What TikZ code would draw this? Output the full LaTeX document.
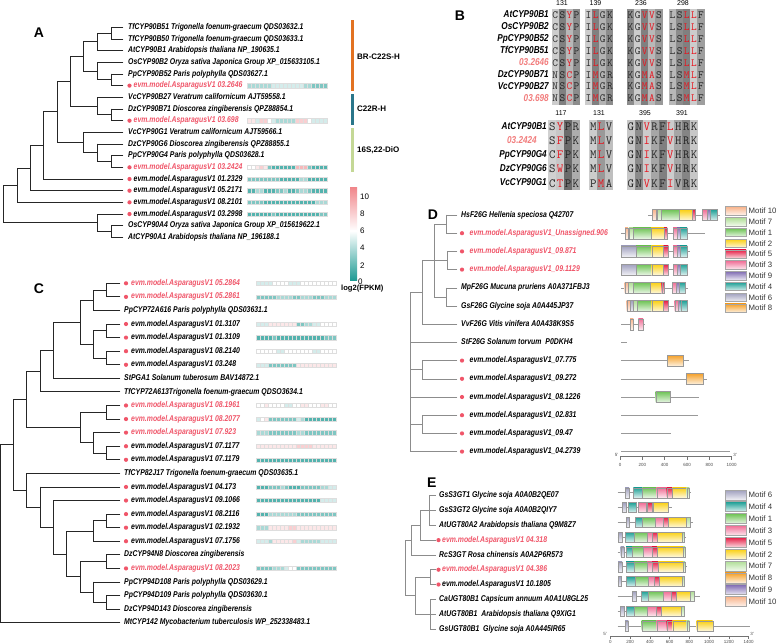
\documentclass[tikz,border=0pt]{standalone}
\usepackage{fontspec}
\setmainfont{Liberation Sans}
\newfontfamily\nrw{Liberation Sans}[FakeStretch=0.82]
\definecolor{evmred}{RGB}{240,85,105}
\definecolor{salm}{RGB}{242,125,125}
\definecolor{resred}{RGB}{232,20,30}
\definecolor{hmteal}{RGB}{30,155,148}
\definecolor{hmpink}{RGB}{238,115,120}
\definecolor{hmgrid}{RGB}{222,222,222}
\definecolor{brorange}{RGB}{226,114,34}
\definecolor{cteal}{RGB}{42,118,138}
\definecolor{dgreen}{RGB}{196,216,150}
\definecolor{mone}{RGB}{110,195,85}
\definecolor{mtwo}{RGB}{250,208,20}
\definecolor{mthree}{RGB}{240,110,150}
\definecolor{mfour}{RGB}{30,160,150}
\definecolor{mfive}{RGB}{230,30,70}
\definecolor{msix}{RGB}{160,160,190}
\definecolor{mseven}{RGB}{175,222,150}
\definecolor{meight}{RGB}{245,160,40}
\definecolor{mnine}{RGB}{130,110,180}
\definecolor{mten}{RGB}{248,180,140}

\newcommand\inode[5]{\draw (#3,#2) -- (#1,#2); \draw (#1,#4) -- (#1,#5);}
\newcommand\leaf[3]{\draw (#1,#3) -- (#2,#3);}
\newcommand\blab[4]{\node[lab] (#1) at (#2,#3) {#4};}
\newcommand\dlab[6]{\fill[evmred] (#2,#4) circle (2.1); \node[lab,text=#6] (#1) at (#3,#4) {#5};}
\newcommand\hmrow[3]{%
  \foreach \hv [count=\hk from 0] in {#3} {%
    \ifnum\hv<5 \pgfmathtruncatemacro\hmc{(5-\hv)*19}\def\hmcol{hmteal!\hmc!white}%
    \else \pgfmathtruncatemacro\hmc{(\hv-5)*17}\def\hmcol{hmpink!\hmc!white}\fi
    \filldraw[fill=\hmcol,draw=hmgrid,line width=0.25pt] ({#1+\hk*4},{#2-2.1}) rectangle ++(4,4.2);
  }}
\newcommand\mtf[5]{\shadedraw[draw=black!40,line width=0.35pt,top color=#1,bottom color=#1!15!white] (#2,{#4-#5/2}) rectangle (#3,{#4+#5/2});}
\newcommand\gline[3]{\draw[black!40,line width=0.6pt] (#1,#3) -- (#2,#3);}
\newcommand\shcol[5]{\fill[black!#5] (#1,#2) rectangle ++(#3,#4);}
\newcommand\seqrow[5]{%
  \foreach \rsd/\rfl [count=\hk from 0] in {#4} {%
    \ifnum\rfl=1 \def\rcol{resred}\else\def\rcol{black!85}\fi
    \node[#5,text=\rcol] at ({#1+(\hk+0.5)*#3},#2) {\rsd};
  }}
\newcommand\legitem[4]{\shadedraw[draw=black!35,line width=0.8pt,top color=#1,bottom color=#1!15!white] (725,{#3-#4/2}) rectangle (746,{#3+#4/2});
  \node[legt] at (748.5,#3) {#2};}

\begin{document}
\begin{tikzpicture}[x=1pt,y=-1pt,
  lab/.style={anchor=west,inner sep=0pt,text height=5.6pt,text depth=1.4pt,font=\nrw\bfseries\itshape\fontsize{8.4}{9}\selectfont},
  blb/.style={anchor=east,inner sep=0pt,text height=6.5pt,text depth=1.5pt,font=\nrw\bfseries\itshape\fontsize{10}{11}\selectfont},
  panel/.style={font=\bfseries\fontsize{14}{15}\selectfont,inner sep=0pt},
  num/.style={font=\fontsize{7}{7}\selectfont,inner sep=0pt},
  rest/.style={font=\ttfamily\fontsize{11}{11}\selectfont,inner sep=0pt,text height=6.6pt,text depth=0pt},
  resb/.style={font=\ttfamily\fontsize{12.5}{12.5}\selectfont,inner sep=0pt,text height=7.6pt,text depth=0pt},
  catl/.style={anchor=west,inner sep=0pt,font=\bfseries\fontsize{8}{9}\selectfont},
  scl/.style={anchor=west,inner sep=0pt,font=\fontsize{8}{9}\selectfont},
  legt/.style={anchor=west,inner sep=0pt,font=\fontsize{7.8}{8}\selectfont,text=black!80},
  axl/.style={inner sep=0pt,font=\fontsize{4.5}{5}\selectfont,text=black!70}]
\useasboundingbox (0,0) rectangle (778,644);
\fill[white] (0,0) rectangle (778,644);

%================ PANEL A =================
\node[panel] (lA) at (39,33) {A};
\begin{scope}[line width=0.85pt,black!85,line cap=rect]
\inode{111}{33.14}{97}{27.30}{38.97}
\inode{97}{41.89}{83}{33.14}{50.64}
\inode{111}{79.82}{97}{73.98}{85.65}
\inode{97}{71.06}{83}{62.31}{79.82}
\inode{83}{56.48}{70.7}{41.89}{71.06}
\inode{111}{114.83}{97}{108.99}{120.66}
\inode{97}{106.07}{70.7}{97.32}{114.83}
\inode{70.7}{81.28}{57}{56.48}{106.07}
\inode{111}{161.51}{97}{155.67}{167.34}
\inode{97}{152.75}{83}{144.00}{161.51}
\inode{83}{142.54}{57}{132.33}{152.75}
\inode{57}{111.91}{43}{81.28}{142.54}
\inode{43}{145.46}{30}{111.91}{179.01}
\inode{30}{168.07}{17}{145.46}{190.68}
\inode{17}{185.21}{3.3}{168.07}{202.35}
\inode{111}{231.53}{97}{225.69}{237.36}
\inode{97}{222.77}{3.3}{214.02}{231.53}
\draw (3.3,185.21) -- (3.3,222.77);
\leaf{111}{123}{27.30}\leaf{111}{123}{38.97}\leaf{97}{123}{50.64}\leaf{97}{123}{62.31}
\leaf{111}{123}{73.98}\leaf{111}{123}{85.65}\leaf{97}{123}{97.32}\leaf{111}{123}{108.99}
\leaf{111}{123}{120.66}\leaf{83}{123}{132.33}\leaf{97}{123}{144.00}\leaf{111}{123}{155.67}
\leaf{111}{123}{167.34}\leaf{43}{123}{179.01}\leaf{30}{123}{190.68}\leaf{17}{123}{202.35}
\leaf{97}{123}{214.02}\leaf{111}{123}{225.69}\leaf{111}{123}{237.36}
\end{scope}
\blab{a0}{128}{27.30}{TfCYP90B51 Trigonella foenum-graecum QDS03632.1}
\blab{a1}{128}{38.97}{TfCYP90B50 Trigonella foenum-graecum QDS03633.1}
\blab{a2}{128}{50.64}{AtCYP90B1 Arabidopsis thaliana NP\_190635.1}
\blab{a3}{128}{62.31}{OsCYP90B2 Oryza sativa Japonica Group XP\_015633105.1}
\blab{a4}{128}{73.98}{PpCYP90B52 Paris polyphylla QDS03627.1}
\dlab{a5}{129.5}{133.5}{85.65}{evm.model.AsparagusV1 03.2646}{evmred}
\blab{a6}{128}{97.32}{VcCYP90B27 Veratrum californicum AJT59558.1}
\blab{a7}{128}{108.99}{DzCYP90B71 Dioscorea zingiberensis QPZ88854.1}
\dlab{a8}{129.5}{133.5}{120.66}{evm.model.AsparagusV1 03.698}{evmred}
\blab{a9}{128}{132.33}{VcCYP90G1 Veratrum californicum AJT59566.1}
\blab{a10}{128}{144.00}{DzCYP90G6 Dioscorea zingiberensis QPZ88855.1}
\blab{a11}{128}{155.67}{PpCYP90G4 Paris polyphylla QDS03628.1}
\dlab{a12}{129.5}{133.5}{167.34}{evm.model.AsparagusV1 03.2424}{evmred}
\dlab{a13}{129.5}{133.5}{179.01}{evm.model.AsparagusV1 01.2329}{black}
\dlab{a14}{129.5}{133.5}{190.68}{evm.model.AsparagusV1 05.2171}{black}
\dlab{a15}{129.5}{133.5}{202.35}{evm.model.AsparagusV1 08.2101}{black}
\dlab{a16}{129.5}{133.5}{214.02}{evm.model.AsparagusV1 03.2998}{black}
\blab{a17}{128}{225.69}{OsCYP90A4 Oryza sativa Japonica Group XP\_015619622.1}
\blab{a18}{128}{237.36}{AtCYP90A1 Arabidopsis thaliana NP\_196188.1}
\hmrow{247}{85.65}{3,3,3,3,3,3,4,4,4,4,4,4,4,4,3,3,2,2,2,2}
\hmrow{247}{120.66}{6,6,4,7,7,5,4,3,3,3,3,3,7,7,7,5,4,4,4,4}
\hmrow{247}{167.34}{5,5,6,7,6,2,1,1,1,1,1,1,8,8,8,2,1,1,1,1}
\hmrow{247}{179.01}{2,2,2,2,2,2,2,2,1,1,1,1,1,3,3,1,1,1,1,1}
\hmrow{247}{190.68}{1,1,3,3,1,1,1,2,2,3,1,1,2,3,3,2,1,1,1,1}
\hmrow{247}{202.35}{2,2,2,2,1,1,1,1,1,1,1,1,1,1,1,1,1,3,3,3}
\hmrow{247}{214.02}{1,1,1,1,1,1,2,1,1,1,1,1,1,1,1,1,1,1,2,2}
% category bars
\fill[brorange] (350.7,20) rectangle (354,91);
\fill[cteal] (350.7,94) rectangle (354,125);
\fill[dgreen] (350.7,128) rectangle (354,172);
\node[catl] (k1) at (357,56.7) {BR-C22S-H};
\node[catl] (k2) at (357,109) {C22R-H};
\node[catl] (k3) at (357,150) {16S,22-DiO};
% colour scale
\shade[top color=hmpink!85!white,bottom color=white] (350,188) rectangle (357,231);
\shade[top color=white,bottom color=hmteal] (350,231) rectangle (357,280);
\node[scl] at (360,197) {10};
\node[scl] at (360,214) {8};
\node[scl] at (360,231) {6};
\node[scl] at (360,248) {4};
\node[scl] at (360,265.5) {2};
\node[scl] at (358,282) {0};
\node[anchor=west,inner sep=0pt,font=\bfseries\fontsize{7.6}{8}\selectfont] (lg) at (341,289) {log2(FPKM)};

%================ PANEL C =================
\node[panel] (lC) at (39,288.5) {C};
\begin{scope}[line width=0.85pt,black!85,line cap=rect]
\inode{106.7}{290.09}{93.3}{283.30}{296.88}
\inode{93.3}{300.27}{80}{290.09}{310.45}
\inode{106.7}{330.82}{93.3}{324.03}{337.60}
\inode{106.7}{357.97}{93.3}{351.18}{364.76}
\inode{93.3}{344.39}{80}{330.82}{357.97}
\inode{80}{322.33}{53.3}{300.27}{344.39}
\inode{53.3}{350.33}{40}{322.33}{378.33}
\inode{40}{371.12}{26.7}{350.33}{391.91}
\inode{106.7}{412.27}{80}{405.48}{419.06}
\inode{106.7}{453.00}{93.3}{446.21}{459.79}
\inode{93.3}{442.82}{80}{432.64}{453.00}
\inode{80}{427.55}{26.7}{412.27}{442.82}
\inode{26.7}{399.33}{13.3}{371.12}{427.55}
\inode{106.7}{520.88}{93.3}{514.09}{527.67}
\inode{93.3}{531.06}{66.7}{520.88}{541.24}
\inode{106.7}{561.61}{80}{554.82}{568.40}
\inode{106.7}{602.34}{93.3}{595.55}{609.12}
\inode{93.3}{592.15}{80}{581.97}{602.34}
\inode{80}{576.88}{66.7}{561.61}{592.15}
\inode{66.7}{553.97}{53.3}{531.06}{576.88}
\inode{53.3}{527.24}{40}{500.52}{553.97}
\inode{40}{507.09}{26.7}{486.94}{527.24}
\inode{26.7}{490.22}{13.3}{473.36}{507.09}
\inode{13.3}{444.78}{0.7}{399.33}{490.22}
\draw (0.7,444.78) -- (0.7,622.70);
\leaf{106.7}{120}{283.30}\leaf{106.7}{120}{296.88}\leaf{93.3}{120}{310.45}\leaf{106.7}{120}{324.03}
\leaf{106.7}{120}{337.60}\leaf{106.7}{120}{351.18}\leaf{106.7}{120}{364.76}\leaf{53.3}{120}{378.33}
\leaf{40}{120}{391.91}\leaf{106.7}{120}{405.48}\leaf{106.7}{120}{419.06}\leaf{93.3}{120}{432.64}
\leaf{106.7}{120}{446.21}\leaf{106.7}{120}{459.79}\leaf{26.7}{120}{473.36}\leaf{40}{120}{486.94}
\leaf{53.3}{120}{500.52}\leaf{106.7}{120}{514.09}\leaf{106.7}{120}{527.67}\leaf{93.3}{120}{541.24}
\leaf{106.7}{120}{554.82}\leaf{106.7}{120}{568.40}\leaf{93.3}{120}{581.97}\leaf{106.7}{120}{595.55}
\leaf{106.7}{120}{609.12}\leaf{0.7}{120}{622.70}
\end{scope}
\dlab{c0}{126}{131}{283.30}{evm.model.AsparagusV1 05.2864}{evmred}
\dlab{c1}{126}{131}{296.88}{evm.model.AsparagusV1 05.2861}{evmred}
\blab{c2}{124}{310.45}{PpCYP72A616 Paris polyphylla QDS03631.1}
\dlab{c3}{126}{131}{324.03}{evm.model.AsparagusV1 01.3107}{black}
\dlab{c4}{126}{131}{337.60}{evm.model.AsparagusV1 01.3109}{black}
\dlab{c5}{126}{131}{351.18}{evm.model.AsparagusV1 08.2140}{black}
\dlab{c6}{126}{131}{364.76}{evm.model.AsparagusV1 03.248}{black}
\blab{c7}{124}{378.33}{StPGA1 Solanum tuberosum BAV14872.1}
\blab{c8}{124}{391.91}{TfCYP72A613Trigonella foenum-graecum QDSO3634.1}
\dlab{c9}{126}{131}{405.48}{evm.model.AsparagusV1 08.1961}{evmred}
\dlab{c10}{126}{131}{419.06}{evm.model.AsparagusV1 08.2077}{evmred}
\dlab{c11}{126}{131}{432.64}{evm.model.AsparagusV1 07.923}{evmred}
\dlab{c12}{126}{131}{446.21}{evm.model.AsparagusV1 07.1177}{black}
\dlab{c13}{126}{131}{459.79}{evm.model.AsparagusV1 07.1179}{black}
\blab{c14}{124}{473.36}{TfCYP82J17 Trigonella foenum-graecum QDS03635.1}
\dlab{c15}{126}{131}{486.94}{evm.model.AsparagusV1 04.173}{black}
\dlab{c16}{126}{131}{500.52}{evm.model.AsparagusV1 09.1066}{black}
\dlab{c17}{126}{131}{514.09}{evm.model.AsparagusV1 08.2116}{black}
\dlab{c18}{126}{131}{527.67}{evm.model.AsparagusV1 02.1932}{black}
\dlab{c19}{126}{131}{541.24}{evm.model.AsparagusV1 07.1756}{black}
\blab{c20}{124}{554.82}{DzCYP94N8 Dioscorea zingiberensis}
\dlab{c21}{126}{131}{568.40}{evm.model.AsparagusV1 08.2023}{evmred}
\blab{c22}{124}{581.97}{PpCYP94D108 Paris polyphylla QDS03629.1}
\blab{c23}{124}{595.55}{PpCYP94D109 Paris polyphylla QDS03630.1}
\blab{c24}{124}{609.12}{DzCYP94D143 Dioscorea zingiberensis}
\blab{c25}{124}{622.70}{MtCYP142 Mycobacterium tuberculosis WP\_252338483.1}
\hmrow{256}{283.30}{4,4,4,4,5,5,5,5,4,4,4,5,5,5,5,5,5,5,5,5}
\hmrow{256}{296.88}{2,2,2,2,2,3,3,3,3,2,2,3,3,3,2,2,2,3,3,3}
\hmrow{256}{324.03}{4,4,4,6,6,6,6,6,6,6,2,2,3,3,4,4,5,5,5,5}
\hmrow{256}{337.60}{1,1,1,1,2,1,1,1,1,1,1,1,1,1,1,1,1,2,2,2}
\hmrow{256}{351.18}{5,5,5,5,5,4,4,5,5,5,5,5,5,5,4,4,5,5,5,5}
\hmrow{256}{364.76}{4,4,4,2,2,2,2,2,2,2,6,6,6,6,6,6,6,6,6,6}
\hmrow{256}{405.48}{5,5,6,5,5,5,5,4,4,5,5,6,6,5,5,5,6,6,5,5}
\hmrow{256}{419.06}{4,5,6,2,2,2,2,2,2,2,4,3,1,1,1,1,1,1,1,1}
\hmrow{256}{432.64}{3,3,3,2,2,2,2,2,2,2,3,3,2,2,2,2,2,2,2,2}
\hmrow{256}{446.21}{6,6,6,6,6,6,6,6,6,6,7,7,7,7,6,6,6,6,6,6}
\hmrow{256}{459.79}{1,1,1,1,1,1,1,1,1,1,1,1,1,1,1,1,1,1,1,1}
\hmrow{256}{486.94}{1,1,1,2,2,2,3,2,1,1,1,2,2,2,2,2,3,3,4,4}
\hmrow{256}{500.52}{1,1,1,1,1,1,1,1,1,1,1,1,1,1,1,1,4,4,4,4}
\hmrow{256}{514.09}{1,1,1,3,3,3,3,3,3,3,2,2,2,2,2,2,2,2,2,2}
\hmrow{256}{527.67}{3,3,3,6,6,6,6,6,7,7,6,6,6,6,6,6,6,6,6,6}
\hmrow{256}{541.24}{4,4,4,3,6,6,6,6,6,7,4,3,3,3,3,3,4,4,4,4}
\hmrow{256}{568.40}{2,2,2,2,3,3,3,4,5,5,2,2,2,2,2,2,2,2,2,2}

%================ PANEL B =================
\node[panel] (lB) at (460,16) {B};
\node[num] at (562,3.5) {131};
\node[num] at (595.5,3.5) {139};
\node[num] at (641,3.5) {236};
\node[num] at (683,3.5) {298};
\shcol{551.7}{9.35}{7.1}{95.2}{20}\shcol{558.8}{9.35}{7.1}{95.2}{50}\shcol{565.9}{9.35}{7.1}{95.2}{28}\shcol{573.0}{9.35}{7.1}{95.2}{45}
\shcol{585.0}{9.35}{7.1}{95.2}{20}\shcol{592.1}{9.35}{7.1}{95.2}{50}\shcol{599.2}{9.35}{7.1}{95.2}{30}\shcol{606.3}{9.35}{7.1}{95.2}{45}
\shcol{627.0}{9.35}{7.1}{95.2}{45}\shcol{634.1}{9.35}{7.1}{95.2}{20}\shcol{641.2}{9.35}{7.1}{95.2}{50}\shcol{648.3}{9.35}{7.1}{95.2}{28}\shcol{655.4}{9.35}{7.1}{95.2}{40}
\shcol{669.0}{9.35}{7.1}{95.2}{28}\shcol{676.1}{9.35}{7.1}{95.2}{45}\shcol{683.2}{9.35}{7.1}{95.2}{50}\shcol{690.3}{9.35}{7.1}{95.2}{20}\shcol{697.4}{9.35}{7.1}{95.2}{38}
\foreach \yy/\lt/\lc in {15.3/AtCYP90B1/black,27.2/OsCYP90B2/black,39.1/PpCYP90B52/black,51.0/TfCYP90B51/black,62.9/03.2646/salm} {
  \node[blb,text=\lc] at (549,\yy) {\lt};
  \seqrow{551.7}{\yy}{7.1}{C/0,S/0,Y/1,P/0}{rest}
  \seqrow{585}{\yy}{7.1}{I/0,L/1,G/0,K/0}{rest}
  \seqrow{627}{\yy}{7.1}{K/0,G/0,V/1,V/1,S/0}{rest}
  \seqrow{669}{\yy}{7.1}{L/0,S/0,L/1,L/1,F/0}{rest}
}
\foreach \yy/\lt/\lc in {74.8/DzCYP90B71/black,86.7/VcCYP90B27/black,98.6/03.698/salm} {
  \node[blb,text=\lc] at (549,\yy) {\lt};
  \seqrow{551.7}{\yy}{7.1}{N/0,S/0,C/1,P/0}{rest}
  \seqrow{585}{\yy}{7.1}{I/0,M/1,G/0,R/0}{rest}
  \seqrow{627}{\yy}{7.1}{K/0,G/0,M/1,A/1,S/0}{rest}
  \seqrow{669}{\yy}{7.1}{L/0,S/0,M/1,L/1,F/0}{rest}
}
\node[num] at (561,113) {117};
\node[num] at (599,113) {131};
\node[num] at (645,113) {395};
\node[num] at (682,113) {391};
\shcol{548.3}{119.6}{7.9}{70.75}{18}\shcol{556.2}{119.6}{7.9}{70.75}{22}\shcol{564.1}{119.6}{7.9}{70.75}{58}\shcol{572.0}{119.6}{7.9}{70.75}{32}
\shcol{589.3}{119.6}{7.9}{70.75}{20}\shcol{597.2}{119.6}{7.9}{70.75}{40}\shcol{605.1}{119.6}{7.9}{70.75}{25}
\shcol{627.0}{119.6}{7.9}{70.75}{22}\shcol{634.9}{119.6}{7.9}{70.75}{45}\shcol{642.8}{119.6}{7.9}{70.75}{20}\shcol{650.7}{119.6}{7.9}{70.75}{35}\shcol{658.6}{119.6}{7.9}{70.75}{50}
\shcol{666.5}{119.6}{7.9}{70.75}{20}\shcol{674.4}{119.6}{7.9}{70.75}{35}\shcol{682.3}{119.6}{7.9}{70.75}{48}\shcol{690.2}{119.6}{7.9}{70.75}{22}
\node[blb] at (547,126.7) {AtCYP90B1};
\seqrow{548.3}{126.7}{7.9}{S/0,Y/1,P/0,R/0}{resb}
\seqrow{589.3}{126.7}{7.9}{M/0,L/1,V/0}{resb}
\seqrow{627}{126.7}{7.9}{G/0,N/0,V/1,R/0,F/0,L/1,H/0,R/0,K/0}{resb}
\node[blb,text=salm] at (537,140.85) {03.2424};
\seqrow{548.3}{140.85}{7.9}{S/0,F/1,P/0,K/0}{resb}
\seqrow{589.3}{140.85}{7.9}{M/0,L/1,V/0}{resb}
\seqrow{627}{140.85}{7.9}{G/0,N/0,I/1,K/0,F/0,V/1,H/0,R/0,K/0}{resb}
\node[blb] at (547,155.0) {PpCYP90G4};
\seqrow{548.3}{155.0}{7.9}{C/0,F/1,P/0,K/0}{resb}
\seqrow{589.3}{155.0}{7.9}{M/0,L/1,V/0}{resb}
\seqrow{627}{155.0}{7.9}{G/0,N/0,I/1,K/0,F/0,V/1,H/0,R/0,K/0}{resb}
\node[blb] at (547,169.15) {DzCYP90G6};
\seqrow{548.3}{169.15}{7.9}{S/0,W/1,P/0,K/0}{resb}
\seqrow{589.3}{169.15}{7.9}{M/0,L/1,V/0}{resb}
\seqrow{627}{169.15}{7.9}{G/0,N/0,I/1,K/0,F/0,V/1,H/0,R/0,K/0}{resb}
\node[blb] at (547,183.3) {VcCYP90G1};
\seqrow{548.3}{183.3}{7.9}{C/0,T/1,P/0,K/0}{resb}
\seqrow{589.3}{183.3}{7.9}{P/0,M/1,A/0}{resb}
\seqrow{627}{183.3}{7.9}{G/0,N/0,V/1,K/0,F/0,I/1,V/0,R/0,K/0}{resb}

%================ PANEL D =================
\node[panel] (lD) at (433,214.5) {D};
\begin{scope}[line width=0.6pt,black!45,line cap=rect]
\inode{446.7}{224.1}{434}{215}{233.2}
\inode{447}{260.5}{434}{251.4}{269.6}
\inode{446.7}{296.9}{434}{287.8}{306}
\inode{434}{260.5}{422.3}{224.1}{296.9}
\inode{422.3}{292.35}{410.7}{260.5}{324.2}
\inode{422.3}{369.7}{410.7}{360.6}{378.8}
\inode{422.3}{424.3}{410.7}{415.2}{433.4}
\draw (410.7,292.35) -- (410.7,451.6);
\leaf{446.7}{457}{215}\leaf{446.7}{457}{233.2}\leaf{447}{457}{251.4}\leaf{447}{457}{269.6}
\leaf{446.7}{457}{287.8}\leaf{446.7}{457}{306}\leaf{422.3}{457}{324.2}\leaf{410.7}{457}{342.4}
\leaf{422.3}{457}{360.6}\leaf{422.3}{457}{378.8}\leaf{410.7}{457}{397}\leaf{422.3}{457}{415.2}
\leaf{422.3}{457}{433.4}\leaf{410.7}{457}{451.6}
\end{scope}
\blab{d0}{461}{215}{HsF26G Hellenia speciosa Q42707}
\dlab{d1}{462}{469.5}{233.2}{evm.model.AsparagusV1\_Unassigned.906}{evmred}
\dlab{d2}{462}{469.5}{251.4}{evm.model.AsparagusV1\_09.871}{evmred}
\dlab{d3}{462}{469.5}{269.6}{evm.model.AsparagusV1\_09.1129}{evmred}
\blab{d4}{461}{287.8}{MpF26G Mucuna pruriens A0A371FBJ3}
\blab{d5}{461}{306}{GsF26G Glycine soja A0A445JP37}
\blab{d6}{461}{324.2}{VvF26G Vitis vinifera A0A438K9S5}
\blab{d7}{461}{342.4}{StF26G Solanum torvum\ \ P0DKH4}
\dlab{d8}{462}{469.5}{360.6}{evm.model.AsparagusV1\_07.775}{black}
\dlab{d9}{462}{469.5}{378.8}{evm.model.AsparagusV1\_09.272}{black}
\dlab{d10}{462}{469.5}{397}{evm.model.AsparagusV1\_08.1226}{black}
\dlab{d11}{462}{469.5}{415.2}{evm.model.AsparagusV1\_02.831}{black}
\dlab{d12}{462}{469.5}{433.4}{evm.model.AsparagusV1\_09.47}{black}
\dlab{d13}{462}{469.5}{451.6}{evm.model.AsparagusV1\_04.2739}{black}
% motifs D
\gline{648}{720}{215}
\mtf{mten}{652}{656}{215}{11}\mtf{mseven}{657}{661}{215}{11}\mtf{mone}{661}{679}{215}{11}\mtf{mtwo}{679}{692}{215}{11}\mtf{mfive}{692}{695}{215}{11}\mtf{mthree}{702}{707}{215}{11}\mtf{mnine}{707}{710}{215}{11}\mtf{mfour}{710}{717}{215}{11}
\gline{621}{705}{233.2}
\mtf{mten}{625}{628}{233.2}{11}\mtf{mseven}{629}{633}{233.2}{11}\mtf{mone}{633}{651}{233.2}{11}\mtf{mtwo}{651}{664}{233.2}{11}\mtf{mfive}{664}{667}{233.2}{11}\mtf{mthree}{673}{677}{233.2}{11}\mtf{mnine}{677}{680}{233.2}{11}\mtf{mfour}{680}{687}{233.2}{11}
\gline{621}{690}{251.4}
\mtf{msix}{621}{636}{251.4}{11}\mtf{mone}{636}{651.7}{251.4}{11}\mtf{mtwo}{651.7}{663.3}{251.4}{11}\mtf{mfive}{663.3}{668.3}{251.4}{11}\mtf{mthree}{673}{677}{251.4}{11}\mtf{mnine}{677}{680}{251.4}{11}\mtf{mfour}{680}{687}{251.4}{11}
\gline{621}{688}{269.6}
\mtf{msix}{621}{636}{269.6}{11}\mtf{mone}{636}{651.7}{269.6}{11}\mtf{mtwo}{651.7}{663.3}{269.6}{11}\mtf{mfive}{663.3}{668.3}{269.6}{11}\mtf{mthree}{673.3}{677.3}{269.6}{11}\mtf{mnine}{677.3}{680}{269.6}{11}\mtf{mfour}{680}{686.7}{269.6}{11}
\gline{621}{688}{287.8}
\mtf{mten}{624.7}{628}{287.8}{11}\mtf{mseven}{628}{633}{287.8}{11}\mtf{mone}{633.3}{650}{287.8}{11}\mtf{mtwo}{650}{661.7}{287.8}{11}\mtf{mfive}{661.7}{664.3}{287.8}{11}\mtf{mthree}{672}{676}{287.8}{11}\mtf{mnine}{676}{679}{287.8}{11}\mtf{mfour}{679}{685}{287.8}{11}
\gline{626}{688}{306}
\mtf{mten}{626.7}{630}{306}{11}\mtf{msix}{630}{633}{306}{11}\mtf{mseven}{633}{637}{306}{11}\mtf{mone}{637}{651.7}{306}{11}\mtf{mtwo}{651.7}{663.3}{306}{11}\mtf{mfive}{663.3}{668.3}{306}{11}\mtf{mthree}{674.7}{678}{306}{11}\mtf{mnine}{678}{680.7}{306}{11}\mtf{mfour}{680.7}{686.7}{306}{11}
\gline{621}{645}{324.2}
\mtf{mten}{630}{633.3}{324.2}{11}\mtf{mthree}{638.3}{643}{324.2}{11}
\gline{621}{627}{342.4}
\gline{621}{689}{360.6}\mtf{meight}{667.3}{683.3}{360.6}{11}
\gline{621}{707}{378.8}\mtf{meight}{686}{702.7}{378.8}{11}
\gline{621}{699}{397}\mtf{mone}{655.7}{670}{397}{11}
\gline{621}{698}{415.2}
\gline{621}{671}{433.4}
\gline{621}{730}{451.6}
% axis D
\draw[black!55,line width=0.5pt] (620,456.7) -- (731.7,456.7);
\foreach \tx/\tl in {620/0,642.34/200,664.68/400,687.02/600,709.36/800,731.7/1000} {
  \draw[black!55,line width=0.5pt] (\tx,456.7) -- (\tx,459.5);
  \node[axl] at (\tx,464.5) {\tl};
}
\node[axl] at (616.5,455) {5'};
\node[axl] at (735,455) {3'};
% legend D
\legitem{mten}{Motif 10}{211}{8.5}
\legitem{mseven}{Motif 7}{221.8}{8.5}
\legitem{mone}{Motif 1}{232.6}{8.5}
\legitem{mtwo}{Motif 2}{243.4}{8.5}
\legitem{mfive}{Motif 5}{254.2}{8.5}
\legitem{mthree}{Motif 3}{265}{8.5}
\legitem{mnine}{Motif 9}{275.8}{8.5}
\legitem{mfour}{Motif 4}{286.6}{8.5}
\legitem{msix}{Motif 6}{297.4}{8.5}
\legitem{meight}{Motif 8}{308.2}{8.5}

%================ PANEL E =================
\node[panel] (lE) at (431.7,482.7) {E};
\begin{scope}[line width=0.6pt,black!45,line cap=rect]
\inode{429.3}{510.5}{420}{495.7}{525.3}
\inode{420}{525.3}{411.7}{510.5}{540.1}
\inode{411.7}{540.1}{405}{525.3}{554.9}
\inode{430}{577.1}{415}{569.7}{584.5}
\inode{430}{614.1}{415}{599.3}{628.9}
\inode{415}{595.6}{405}{577.1}{614.1}
\draw (405,540.1) -- (405,595.6);
\leaf{429.3}{435.7}{495.7}\leaf{429.3}{435.7}{510.5}\leaf{429.3}{435.7}{525.3}\leaf{420}{435.7}{540.1}
\leaf{411.7}{435.7}{554.9}\leaf{430}{435.7}{569.7}\leaf{430}{435.7}{584.5}\leaf{430}{435.7}{599.3}
\leaf{430}{435.7}{614.1}\leaf{430}{435.7}{628.9}
\end{scope}
\blab{e0}{439}{495.7}{GsS3GT1 Glycine soja A0A0B2QE07}
\blab{e1}{439}{510.5}{GsS3GT2 Glycine soja A0A0B2QIY7}
\blab{e2}{439}{525.3}{AtUGT80A2 Arabidopsis thaliana Q9M8Z7}
\dlab{e3}{438.5}{442}{540.1}{evm.model.AsparagusV1 04.318}{evmred}
\blab{e4}{439}{554.9}{RcS3GT Rosa chinensis A0A2P6R573}
\dlab{e5}{438.5}{442}{569.7}{evm.model.AsparagusV1 04.386}{evmred}
\dlab{e6}{438.5}{442}{584.5}{evm.model.AsparagusV1 10.1805}{black}
\blab{e7}{439}{599.3}{CaUGT80B1 Capsicum annuum A0A1U8GL25}
\blab{e8}{439}{614.1}{AtUGT80B1\ \ Arabidopsis thaliana Q9XIG1}
\blab{e9}{439}{628.9}{GsUGT80B1\ \ Glycine soja A0A445IR65}
% motifs E
\gline{617.7}{690.7}{492.7}
\mtf{msix}{625}{629}{492.7}{10}\mtf{mfour}{633.3}{642.3}{492.7}{10}\mtf{mone}{642.3}{656.7}{492.7}{10}\mtf{mthree}{656.7}{666.7}{492.7}{10}\mtf{mfive}{666.7}{672.3}{492.7}{10}\mtf{mtwo}{672.3}{686.7}{492.7}{10}\mtf{mseven}{686.7}{689.3}{492.7}{10}
\gline{617.7}{672}{507.5}
\mtf{msix}{622}{626}{507.5}{10}\mtf{mfour}{628.5}{636}{507.5}{10}\mtf{mthree}{638}{646.5}{507.5}{10}\mtf{mfive}{647}{652.5}{507.5}{10}\mtf{mtwo}{653}{668}{507.5}{10}
\gline{617.7}{693}{522.3}
\mtf{msix}{626}{629.5}{522.3}{10}\mtf{mfour}{635}{642}{522.3}{10}\mtf{mone}{642}{655}{522.3}{10}\mtf{mthree}{655}{663}{522.3}{10}\mtf{mfive}{663}{668}{522.3}{10}\mtf{mtwo}{668}{686}{522.3}{10}\mtf{mseven}{686}{690}{522.3}{10}
\gline{617.7}{686}{537.1}
\mtf{msix}{618.3}{622}{537.1}{10}\mtf{mfour}{625}{634}{537.1}{10}\mtf{mone}{634}{647}{537.1}{10}\mtf{mthree}{647}{652}{537.1}{10}\mtf{mfive}{652}{657}{537.1}{10}\mtf{mtwo}{657}{682}{537.1}{10}\mtf{mseven}{682}{684}{537.1}{10}
\gline{617.7}{686}{551.9}
\mtf{msix}{620.7}{624}{551.9}{10}\mtf{mfour}{626}{632}{551.9}{10}\mtf{mone}{632}{643}{551.9}{10}\mtf{mthree}{643}{652}{551.9}{10}\mtf{mfive}{652}{657}{551.9}{10}\mtf{mtwo}{657}{683}{551.9}{10}\mtf{mseven}{683}{685}{551.9}{10}
\gline{617.7}{687}{566.7}
\mtf{msix}{618}{622}{566.7}{10}\mtf{mfour}{626}{634}{566.7}{10}\mtf{mone}{634}{647}{566.7}{10}\mtf{mthree}{647}{652}{566.7}{10}\mtf{mfive}{652}{658}{566.7}{10}\mtf{mtwo}{658}{683}{566.7}{10}\mtf{mseven}{683}{685}{566.7}{10}
\gline{617.7}{685}{581.5}
\mtf{msix}{618}{621}{581.5}{10}\mtf{mfour}{626}{635}{581.5}{10}\mtf{mone}{635}{648}{581.5}{10}\mtf{mthree}{648}{654}{581.5}{10}\mtf{mfive}{654}{659}{581.5}{10}\mtf{mtwo}{659}{682}{581.5}{10}\mtf{mseven}{682}{684}{581.5}{10}
\gline{617.7}{700}{596.3}
\mtf{msix}{632}{636}{596.3}{10}\mtf{mfour}{641}{648}{596.3}{10}\mtf{mone}{648}{663}{596.3}{10}\mtf{mthree}{663}{671}{596.3}{10}\mtf{mfive}{671}{676}{596.3}{10}\mtf{mtwo}{676}{690}{596.3}{10}\mtf{mseven}{690}{694}{596.3}{10}
\gline{617.7}{685}{611.1}
\mtf{msix}{620}{624}{611.1}{10}\mtf{mfour}{626}{634}{611.1}{10}\mtf{mone}{634}{647}{611.1}{10}\mtf{mthree}{647}{656}{611.1}{10}\mtf{mfive}{656}{661}{611.1}{10}\mtf{mtwo}{661}{681}{611.1}{10}\mtf{mseven}{681}{684}{611.1}{10}
\gline{617.7}{750}{625.9}
\mtf{msix}{625}{628.3}{625.9}{10}\mtf{mone}{641.7}{656.7}{625.9}{10}\mtf{mthree}{656.7}{666.7}{625.9}{10}\mtf{mfive}{666.7}{672.7}{625.9}{10}\mtf{mtwo}{672.7}{686.7}{625.9}{10}\mtf{mseven}{686.7}{689.3}{625.9}{10}\mtf{mtwo}{696.7}{712.7}{625.9}{10}
% axis E
\draw[black!55,line width=0.5pt] (610.3,636.5) -- (748.6,636.5);
\foreach \tx/\tl in {610.3/0,630.06/200,649.81/400,669.57/600,689.33/800,709.09/1000,728.84/1200,748.6/1400} {
  \draw[black!55,line width=0.5pt] (\tx,636.5) -- (\tx,638.5);
  \node[axl] at (\tx,641.8) {\tl};
}
\node[axl] at (605,633.5) {5'};
\node[axl] at (752,634) {3'};
% legend E
\legitem{msix}{Motif 6}{495}{10}
\legitem{mfour}{Motif 4}{506.85}{10}
\legitem{mone}{Motif 1}{518.7}{10}
\legitem{mthree}{Motif 3}{530.55}{10}
\legitem{mfive}{Motif 5}{542.4}{10}
\legitem{mtwo}{Motif 2}{554.25}{10}
\legitem{mseven}{Motif 7}{566.1}{10}
\legitem{meight}{Motif 8}{577.95}{10}
\legitem{mnine}{Motif 9}{589.8}{10}
\legitem{mten}{Motif 10}{601.65}{10}
\end{tikzpicture}
\end{document}
